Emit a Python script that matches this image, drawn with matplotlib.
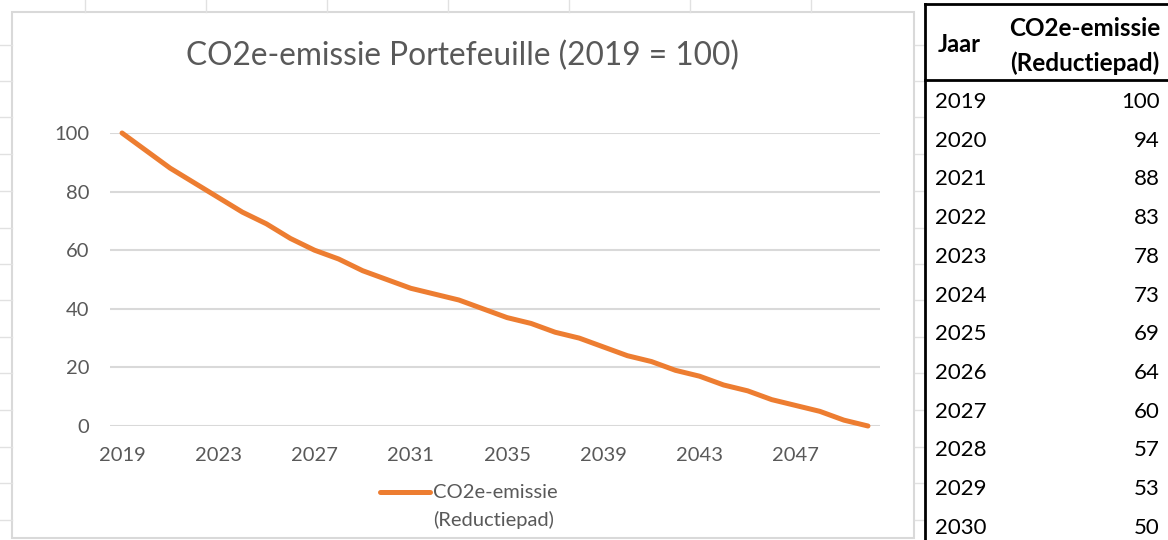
import matplotlib
matplotlib.use("Agg")
import matplotlib.pyplot as plt
from matplotlib.patches import Rectangle
from matplotlib.lines import Line2D

plt.rcParams['font.family'] = ['Lato', 'DejaVu Sans']

# data
jaren = list(range(2019, 2051))
emissie = [100, 94, 88, 83, 78, 73, 69, 64, 60, 57, 53, 50,
           47, 45, 43, 40, 37, 35, 32, 30, 27, 24, 22, 19,
           17, 14, 12, 9, 7, 5, 2, 0]
tabel_rijen = 12  # the table shows 2019-2030
titel = 'CO2e-emissie Portefeuille (2019 = 100)'
reeks_naam = 'CO2e-emissie'
reeks_naam2 = '(Reductiepad)'

W, H = 1168, 540
oranje = '#ED7D31'
grijs = '#595959'
rand = '#D9D9D9'

fig = plt.figure(figsize=(W / 100, H / 100), dpi=100)
fig.patch.set_facecolor('white')

# background layer in pixel coordinates (sheet grid, chart frame, table)
bg = fig.add_axes([0, 0, 1, 1])
bg.set_xlim(0, W)
bg.set_ylim(H, 0)
bg.axis('off')

# sheet gridlines peeking out around the chart
for x in [85, 206, 327, 448, 569, 690, 811]:
    bg.add_line(Line2D([x, x], [0, 12], color='#E1E1E1', lw=1))
for y in [45, 81, 117, 154, 191, 228, 264, 300, 337, 373, 410, 447, 483, 520]:
    bg.add_line(Line2D([0, 12], [y, y], color='#E1E1E1', lw=1))
    bg.add_line(Line2D([915, 925], [y, y], color='#E1E1E1', lw=1))

# chart area
bg.add_patch(Rectangle((12, 12), 902, 526, facecolor='white', edgecolor=rand, lw=1.5))
bg.text(462, 56, titel, ha='center', va='center', fontsize=22.8, color=grijs)

# legend drawn by hand so the swatch sits on the first line
bg.add_line(Line2D([380, 430], [492, 492], color=oranje, lw=3.6, solid_capstyle='round'))
bg.text(433, 492, reeks_naam, ha='left', va='center', fontsize=14.5, color=grijs)
bg.text(433, 520, reeks_naam2, ha='left', va='center', fontsize=14.5, color=grijs)

# table
bg.add_patch(Rectangle((925, 4), 260, 540, facecolor='white', edgecolor='none'))
bg.add_line(Line2D([925, 925], [4, H], color='black', lw=2))
bg.add_line(Line2D([925, W], [4, 4], color='black', lw=2))
bg.add_line(Line2D([925, W], [80, 80], color='black', lw=2))
bg.text(938, 45, 'Jaar', ha='left', va='center', fontsize=17, fontweight='bold', color='black')
bg.text(1085, 28, reeks_naam, ha='center', va='center', fontsize=17.5, fontweight='bold', color='black')
bg.text(1085, 63, reeks_naam2, ha='center', va='center', fontsize=17.5, fontweight='bold', color='black')
for i in range(tabel_rijen):
    y = 102 + i * 38.7
    bg.text(935, y, str(jaren[i]), ha='left', va='center', fontsize=16, color='black')
    bg.text(1160, y, str(emissie[i]), ha='right', va='center', fontsize=16, color='black')

# line chart
ax = fig.add_axes([110 / W, 114 / H, 770 / W, 293 / H])
ax.patch.set_alpha(0)
x = list(range(len(jaren)))
ax.plot(x, emissie, color=oranje, lw=3.6, solid_capstyle='round', clip_on=False, zorder=3)
ax.set_xlim(-0.5, len(jaren) - 0.5)
ax.set_ylim(0, 100)
ax.set_yticks(range(0, 101, 20))
ax.set_xticks(x[::4])
ax.set_xticklabels([str(j) for j in jaren[::4]])
ax.grid(axis='y', color=rand, lw=1.5)
ax.set_axisbelow(True)
for s in ax.spines.values():
    s.set_visible(False)
ax.tick_params(length=0, labelsize=14.5, labelcolor=grijs)
ax.tick_params(axis='y', pad=15)
ax.tick_params(axis='x', pad=15)

fig.savefig('out.png', dpi=100)
